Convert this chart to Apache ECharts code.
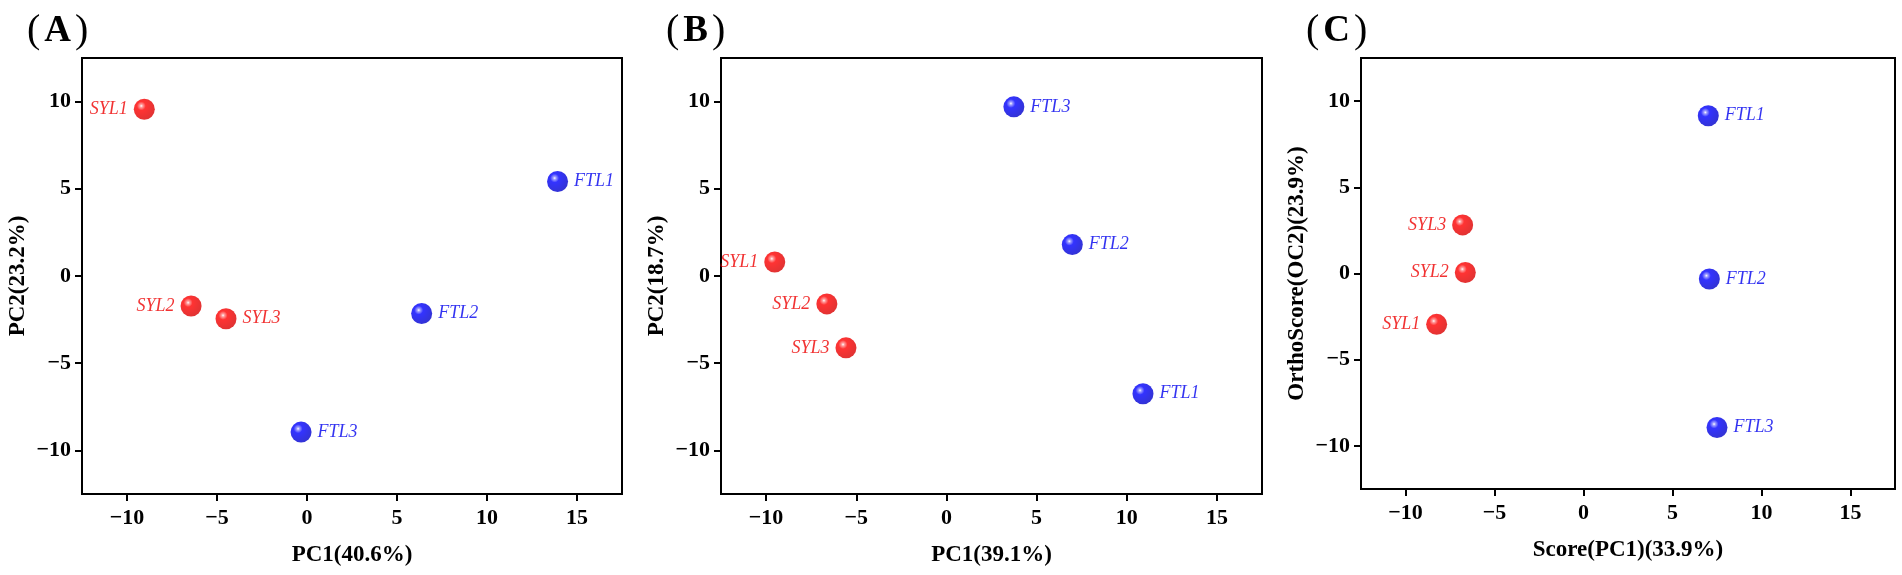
<!DOCTYPE html>
<html>
<head>
<meta charset="utf-8">
<script src="https://cdn.jsdelivr.net/npm/echarts@6/dist/echarts.min.js"></script>
<style>
  html, body { margin: 0; padding: 0; background: #fff; }
  #main { width: 1902px; height: 575px; }
</style>
</head>
<body>
<div id="main"></div>
<script>
// sample names, same order in every panel
var sampleNames = ['SYL1', 'SYL2', 'SYL3', 'FTL1', 'FTL2', 'FTL3'];

// (A) PCA
var pcaA_x = [-9.04, -6.44, -4.5, 13.92, 6.37, -0.33];
var pcaA_y = [9.56, -1.72, -2.45, 5.42, -2.15, -8.95];
// (B) PCA
var pcaB_x = [-9.52, -6.63, -5.57, 10.9, 6.98, 3.74];
var pcaB_y = [0.8, -1.6, -4.12, -6.75, 1.8, 9.7];
// (C) OPLS-DA
var oplsC_x = [-8.25, -6.64, -6.79, 7.01, 7.07, 7.5];
var oplsC_y = [-2.95, 0.06, 2.82, 9.15, -0.32, -8.93];

var xTicks = [-10, -5, 0, 5, 10, 15];
var yTicks = [-10, -5, 0, 5, 10];

var panelTags = ['A', 'B', 'C'];
var xTitles = ['PC1(40.6%)', 'PC1(39.1%)', 'Score(PC1)(33.9%)'];
var yTitles = ['PC2(23.2%)', 'PC2(18.7%)', 'OrthoScore(OC2)(23.9%)'];

// which side the sample name sits on
var sideA = ['left', 'left', 'right', 'right', 'right', 'right'];
var sideB = ['left', 'left', 'left', 'right', 'right', 'right'];
var sideC = ['left', 'left', 'left', 'right', 'right', 'right'];

var FONT = '"Liberation Serif", "Times New Roman", serif';

function sphere(light, mid, dark) {
    return {
        type: 'radial', x: 0.36, y: 0.34, r: 0.7,
        colorStops: [
            {offset: 0, color: '#ffffff'},
            {offset: 0.1, color: light},
            {offset: 0.3, color: mid},
            {offset: 1, color: dark}
        ]
    };
}
var redBall = sphere('#ff8888', '#ff0000', '#d80000');
var blueBall = sphere('#8888ff', '#0000ff', '#0000c8');

var grids = [
    {left: 82, top: 58, width: 540, height: 436},
    {left: 721, top: 58, width: 541, height: 436},
    {left: 1361, top: 58, width: 534, height: 431}
];

function minusFmt(v) {
    return String(v).replace('-', '\u2212');
}

var option = {
    backgroundColor: '#fff',
    animation: false,
    title: [],
    grid: [],
    xAxis: [],
    yAxis: [],
    series: []
};

var panels = [
    {x: pcaA_x, y: pcaA_y, side: sideA},
    {x: pcaB_x, y: pcaB_y, side: sideB},
    {x: oplsC_x, y: oplsC_y, side: sideC}
];

panels.forEach(function (p, i) {
    var g = grids[i];
    option.grid.push({
        left: g.left, top: g.top, width: g.width, height: g.height,
        show: true, borderColor: '#000', borderWidth: 2, backgroundColor: 'transparent'
    });
    option.title.push({
        text: '{p|(}{t|' + panelTags[i] + '}{p|)}',
        left: g.left - 60,
        top: 6,
        textStyle: {
            rich: {
                p: {fontFamily: FONT, fontSize: 40, fontWeight: 'normal', color: '#000'},
                t: {fontFamily: FONT, fontSize: 37, fontWeight: 'bold', color: '#000', padding: [0, 4, 0, 4]}
            }
        }
    });
    option.xAxis.push({
        type: 'value', gridIndex: i, min: -12.5, max: 17.5,
        name: xTitles[i], nameLocation: 'middle', nameGap: 50,
        nameTextStyle: {fontFamily: FONT, fontSize: 23, fontWeight: 'bold', color: '#000'},
        axisLine: {show: true, onZero: false, lineStyle: {color: '#000', width: 2}},
        axisTick: {show: true, customValues: xTicks, length: 7, lineStyle: {color: '#000', width: 2}},
        axisLabel: {
            customValues: xTicks, margin: 13, formatter: minusFmt,
            fontFamily: FONT, fontSize: 22, fontWeight: 'bold', color: '#000'
        },
        splitLine: {show: false}
    });
    option.yAxis.push({
        type: 'value', gridIndex: i, min: -12.5, max: 12.5,
        name: yTitles[i], nameLocation: 'middle', nameGap: 52,
        nameTextStyle: {fontFamily: FONT, fontSize: 23, fontWeight: 'bold', color: '#000'},
        axisLine: {show: true, onZero: false, lineStyle: {color: '#000', width: 2}},
        axisTick: {show: true, customValues: yTicks, length: 7, lineStyle: {color: '#000', width: 2}},
        axisLabel: {
            customValues: yTicks, margin: 11, formatter: minusFmt,
            fontFamily: FONT, fontSize: 22, fontWeight: 'bold', color: '#000'
        },
        splitLine: {show: false}
    });

    var syl = [], ftl = [];
    sampleNames.forEach(function (name, k) {
        var item = {
            name: name,
            value: [p.x[k], p.y[k]],
            label: {position: p.side[k]}
        };
        if (name.indexOf('SYL') === 0) syl.push(item); else ftl.push(item);
    });
    var labelBase = {
        show: true, formatter: '{b}', distance: 6,
        fontFamily: FONT, fontSize: 18, fontStyle: 'italic'
    };
    option.series.push({
        type: 'scatter', xAxisIndex: i, yAxisIndex: i,
        symbolSize: 21, data: syl,
        itemStyle: {color: redBall},
        label: Object.assign({}, labelBase, {color: '#ee0000'})
    });
    option.series.push({
        type: 'scatter', xAxisIndex: i, yAxisIndex: i,
        symbolSize: 21, data: ftl,
        itemStyle: {color: blueBall},
        label: Object.assign({}, labelBase, {color: '#0000ee'})
    });
});

var chart = echarts.init(document.getElementById('main'));
chart.setOption(option);
</script>
</body>
</html>
